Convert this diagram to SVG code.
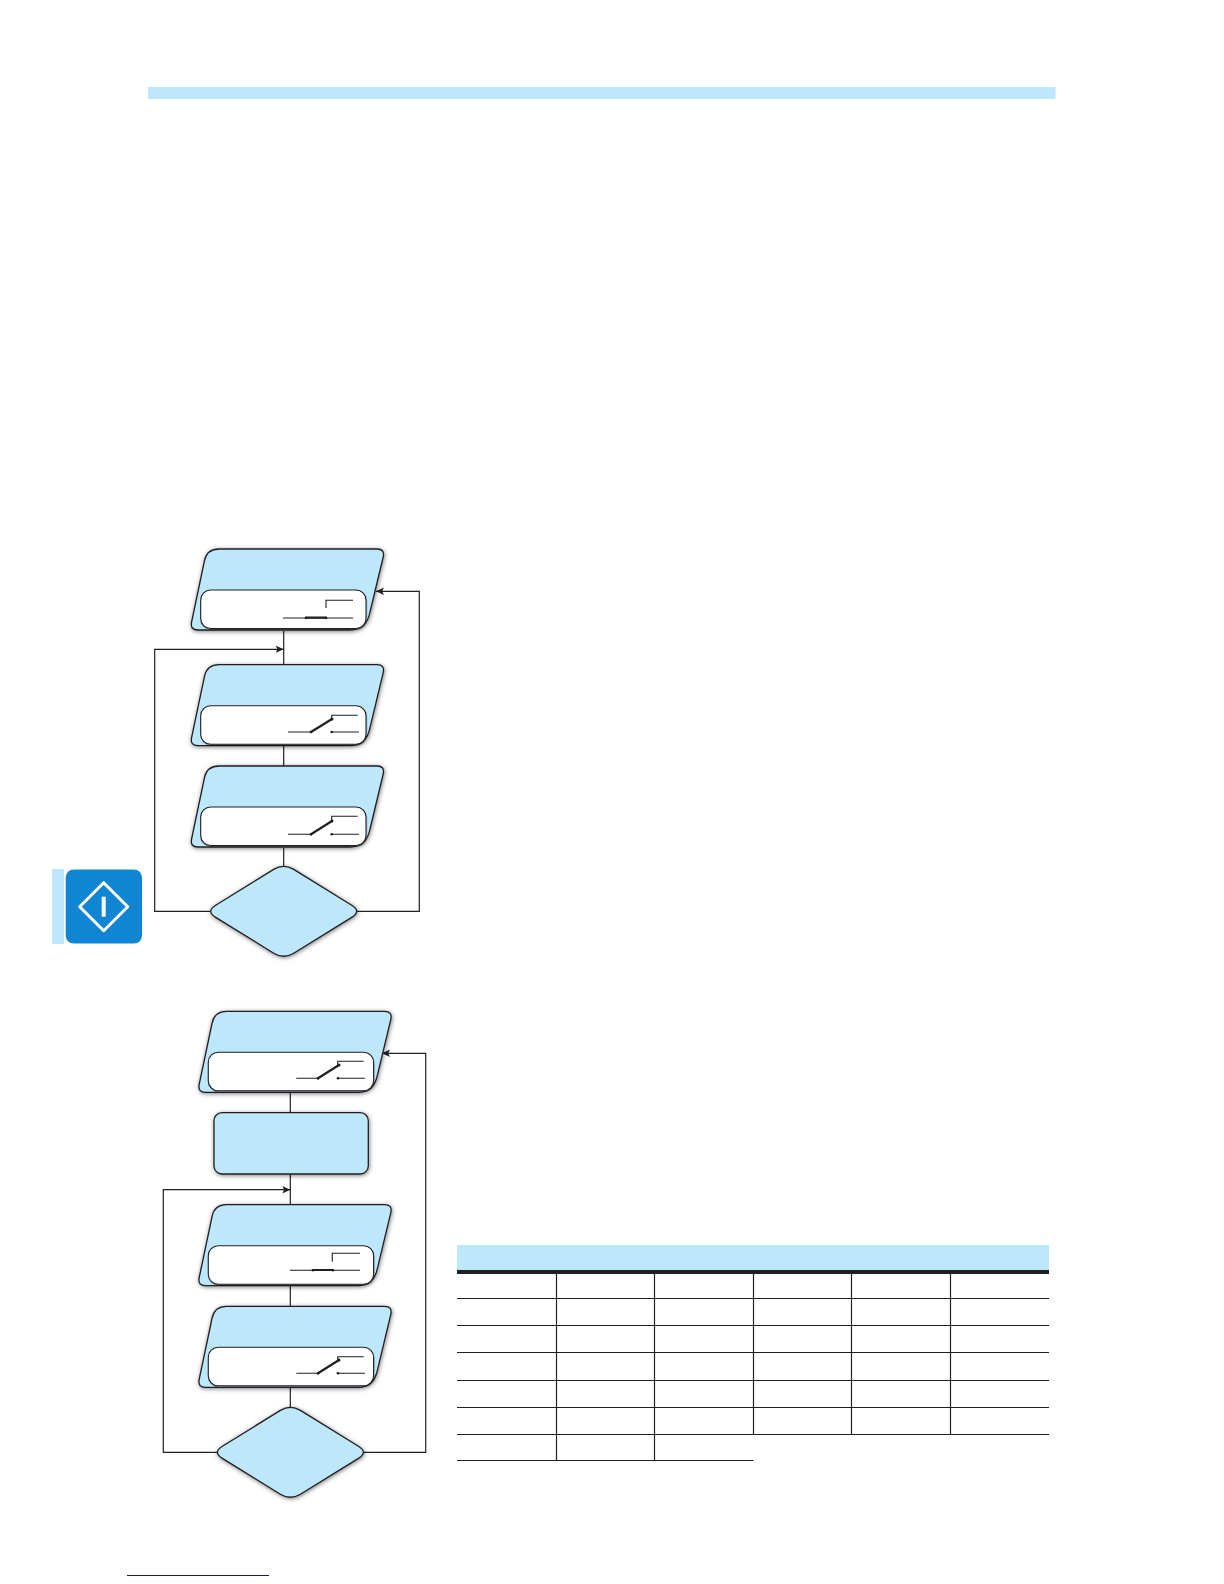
<svg xmlns="http://www.w3.org/2000/svg" width="1224" height="1584" viewBox="0 0 1224 1584">
<style>
.shape{fill:#bde8fb;stroke:#231f20;stroke-width:1.3;filter:url(#sh)}
.inner{fill:#fff;stroke:#231f20;stroke-width:1.1;filter:url(#sh2)}
.wire{fill:none;stroke:#231f20;stroke-width:1.1}
.blade{fill:none;stroke:#231f20;stroke-width:2.2;stroke-linecap:round}
.dot{fill:#231f20}
.conn{fill:none;stroke:#231f20;stroke-width:1.2}
.arrow{marker-end:url(#ah)}
.grid{fill:none;stroke:#231f20;stroke-width:1.2}
.band{fill:#bde8fb}
</style>
<defs>
<filter id="sh" x="-10%" y="-10%" width="125%" height="125%"><feDropShadow dx="0.6" dy="1" stdDeviation="2" flood-color="#000" flood-opacity=".5"/></filter>
<filter id="sh2" x="-5%" y="-10%" width="110%" height="125%"><feDropShadow dx="0.3" dy="1" stdDeviation="0.5" flood-color="#000" flood-opacity=".35"/></filter>
<marker id="ah" markerUnits="userSpaceOnUse" markerWidth="9" markerHeight="8" refX="8" refY="4" orient="auto"><path d="M0,0.3 L8,4 L0,7.7 L1.8,4 Z" fill="#231f20"/></marker>
<path id="para" d="M12.5,11.7 Q15,0 27,0 H185 Q193,0 191.2,8 L178,63 Q174.5,81 158,81 H6 Q-2,81 -0.4,73 Z"/>
<rect id="win" x="8.7" y="41" width="165.3" height="38.5" rx="10"/>
<path id="dia" d="M-68,-6.1 Q-78,0 -68,6.1 L-10,41.9 Q0,48 10,41.9 L68,6.1 Q78,0 68,-6.1 L10,-41.9 Q0,-48 -10,-41.9 Z"/>
</defs>

<g id="top-band"><rect class="band" x="148" y="87" width="907.5" height="12"/></g>

<g id="side-tab">
<rect class="band" x="52" y="869" width="16" height="75"/>
<rect x="64" y="868" width="5" height="77" fill="#fff"/>
<rect x="65.7" y="869.5" width="76.3" height="74" rx="8" fill="#0f85d4"/>
<path d="M103.7,882.7 L127.7,906.7 L103.7,930.7 L79.7,906.7 Z" fill="none" stroke="#fff" stroke-width="3" stroke-linejoin="round"/>
<rect x="101.7" y="896.7" width="4" height="20" fill="#fff"/>
</g>

<g id="connectors">
<path class="conn" d="M283.7,631 V665 M283.7,746 V766 M283.7,848 V866"/>
<path class="conn arrow" d="M210,911.3 H154.7 V649.3 H283.7"/>
<path class="conn arrow" d="M357,911.3 H419.3 V591.3 H376"/>
<path class="conn" d="M290.3,1092 V1113 M290.3,1174 V1205 M290.3,1285 V1306 M290.3,1387 V1407"/>
<path class="conn arrow" d="M217.7,1452.3 H163.3 V1189.7 H290.3"/>
<path class="conn arrow" d="M363.7,1452.3 H425.7 V1053.3 H382"/>
</g>

<g id="n1-input">
<use href="#para" x="192" y="549" class="shape"/>
<use href="#win" x="192" y="549" class="inner"/>
<path class="wire" d="M283,618 H353 M326,608 V600.3 H353"/>
<path class="blade" d="M306,617.7 H326"/>
<circle class="dot" cx="306" cy="618" r="1.3"/><circle class="dot" cx="326" cy="618" r="1.3"/>
</g>
<g id="n1-delay-a">
<use href="#para" x="192" y="664.7" class="shape"/>
<use href="#win" x="192" y="664.7" class="inner"/>
<path class="wire" d="M288,732 H311 M331.7,720 V715.3 H357.7 M331.7,732 H359"/>
<path class="blade" d="M311,732 L332,719"/>
<circle class="dot" cx="311" cy="732" r="1.3"/><circle class="dot" cx="332" cy="719" r="1.5"/><circle class="dot" cx="331.7" cy="732" r="1.3"/>
</g>
<g id="n1-delay-b">
<use href="#para" x="192" y="766" class="shape"/>
<use href="#win" x="192" y="766" class="inner"/>
<path class="wire" d="M288,834.3 H311 M331.7,822 V816.3 H357.7 M331.7,834.3 H359"/>
<path class="blade" d="M311,834.3 L332,821"/>
<circle class="dot" cx="311" cy="834.3" r="1.3"/><circle class="dot" cx="332" cy="821" r="1.5"/><circle class="dot" cx="331.7" cy="834.3" r="1.3"/>
</g>
<g id="n1-decision"><use href="#dia" x="283.7" y="911.3" class="shape"/></g>

<g id="n2-input">
<use href="#para" x="199.6" y="1011.3" class="shape"/>
<use href="#win" x="199.6" y="1011.3" class="inner"/>
<path class="wire" d="M296.3,1078.3 H318 M337.7,1066 V1061.3 H363.7 M337.7,1078.3 H365"/>
<path class="blade" d="M318,1078.3 L339,1065"/>
<circle class="dot" cx="318" cy="1078.3" r="1.3"/><circle class="dot" cx="339" cy="1065" r="1.5"/><circle class="dot" cx="338" cy="1078.3" r="1.3"/>
</g>
<g id="n2-process"><rect class="shape" x="214" y="1112.7" width="154.3" height="61.3" rx="8"/></g>
<g id="n2-delay-a">
<use href="#para" x="199.6" y="1204.7" class="shape"/>
<use href="#win" x="199.6" y="1204.7" class="inner"/>
<path class="wire" d="M290,1270.3 H360 M332.3,1261.7 V1253.3 H360"/>
<path class="blade" d="M313,1270 H333"/>
<circle class="dot" cx="313" cy="1270.3" r="1.3"/><circle class="dot" cx="333" cy="1270.3" r="1.3"/>
</g>
<g id="n2-delay-b">
<use href="#para" x="199.6" y="1306.3" class="shape"/>
<use href="#win" x="199.6" y="1306.3" class="inner"/>
<path class="wire" d="M296.3,1373.3 H318 M337.7,1361 V1356.7 H363.7 M337.7,1373.3 H365"/>
<path class="blade" d="M318,1373.3 L339,1360"/>
<circle class="dot" cx="318" cy="1373.3" r="1.3"/><circle class="dot" cx="339" cy="1360" r="1.5"/><circle class="dot" cx="338" cy="1373.3" r="1.3"/>
</g>
<g id="n2-decision"><use href="#dia" x="290.4" y="1452.3" class="shape"/></g>

<g id="table">
<rect class="band" x="457" y="1245" width="592" height="26"/>
<rect x="457" y="1270" width="592" height="4" fill="#231f20"/>
<path class="grid" d="M457,1298.5 H1049 M457,1325.5 H1049 M457,1352.5 H1049 M457,1380.5 H1049 M457,1407.5 H1049 M457,1434.5 H1049 M457,1460.5 H753.5"/>
<path class="grid" d="M556.5,1274 V1461 M654.5,1274 V1461 M753.5,1274 V1434.5 M851.5,1274 V1434.5 M950.5,1274 V1434.5"/>
</g>

<g id="footer-rule"><path d="M127,1575.5 H269" fill="none" stroke="#14148c" stroke-width="1.1"/></g>
</svg>
